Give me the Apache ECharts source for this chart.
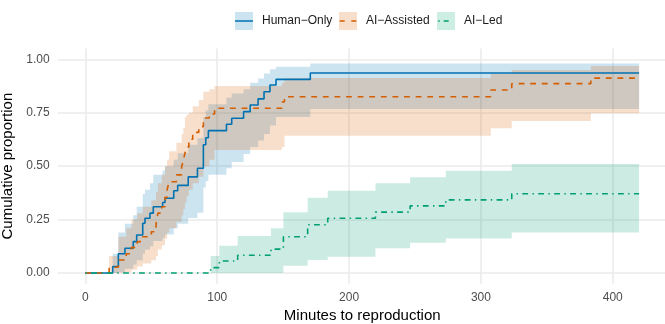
<!DOCTYPE html>
<html><head><meta charset="utf-8">
<script src="https://cdn.jsdelivr.net/npm/echarts@6/dist/echarts.min.js"></script>
<style>html,body{margin:0;padding:0;background:#fff}#c{width:665px;height:324px}</style>
</head><body><div id="c"></div>
<script>
// ---- data ----
const groups = ['Human−Only', 'AI−Assisted', 'AI−Led'];
const xTicks = [0, 100, 200, 300, 400];
const yTicks = [0, 0.25, 0.5, 0.75, 1];

const humanTime = [0, 20.7, 25, 30, 36.3, 38.9, 43.5, 45.2, 49, 51.5, 58.6, 60.4, 67, 70, 78, 85, 89.5, 91.3, 93.3, 107, 111, 120, 125, 131, 135.5, 140, 144.6, 170.6, 420];
const humanCum  = [0, 0.03, 0.09, 0.116, 0.147, 0.178, 0.233, 0.256, 0.28, 0.31, 0.33, 0.35, 0.385, 0.41, 0.45, 0.49, 0.6, 0.633, 0.666, 0.696, 0.724, 0.755, 0.786, 0.815, 0.848, 0.88, 0.906, 0.936, 0.936];
const humanLo   = [0, 0, 0.005, 0.02, 0.04, 0.06, 0.09, 0.11, 0.125, 0.15, 0.165, 0.18, 0.21, 0.23, 0.257, 0.282, 0.40, 0.43, 0.46, 0.49, 0.52, 0.557, 0.59, 0.62, 0.65, 0.69, 0.73, 0.767, 0.767];
const humanHi   = [0, 0.09, 0.19, 0.23, 0.27, 0.31, 0.37, 0.39, 0.42, 0.46, 0.48, 0.5, 0.53, 0.56, 0.6, 0.63, 0.73, 0.76, 0.79, 0.82, 0.84, 0.86, 0.89, 0.91, 0.934, 0.953, 0.965, 0.98, 0.98];

const assistTime = [0, 18, 25, 31, 35, 39.4, 43.5, 50, 53.6, 55, 58, 60.4, 62, 63.5, 69, 73, 74.3, 75.5, 76.8, 78.5, 81.4, 86, 89.5, 94, 98, 149, 151, 307.5, 323.4, 383.4, 420];
const assistCum  = [0, 0.027, 0.061, 0.09, 0.12, 0.147, 0.17, 0.193, 0.23, 0.28, 0.31, 0.354, 0.39, 0.427, 0.459, 0.497, 0.529, 0.56, 0.59, 0.626, 0.658, 0.685, 0.725, 0.744, 0.771, 0.80, 0.825, 0.856, 0.886, 0.912, 0.912];
const assistLo   = [0, 0, 0, 0.005, 0.015, 0.03, 0.045, 0.06, 0.08, 0.11, 0.13, 0.16, 0.19, 0.21, 0.24, 0.27, 0.30, 0.33, 0.36, 0.39, 0.42, 0.45, 0.50, 0.53, 0.575, 0.59, 0.642, 0.677, 0.711, 0.747, 0.747];
const assistHi   = [0, 0.08, 0.17, 0.21, 0.25, 0.28, 0.31, 0.34, 0.38, 0.42, 0.46, 0.50, 0.53, 0.57, 0.61, 0.65, 0.68, 0.73, 0.74, 0.75, 0.78, 0.81, 0.848, 0.86, 0.875, 0.89, 0.912, 0.934, 0.95, 0.969, 0.969];

const ledTime = [0, 95, 101.6, 115.5, 140.8, 150.2, 168.6, 183.8, 220, 246.3, 273.4, 323.4, 420];
const ledCum  = [0, 0.025, 0.056, 0.083, 0.112, 0.17, 0.226, 0.256, 0.285, 0.314, 0.342, 0.371, 0.371];
const ledLo   = [0, 0, 0, 0, 0, 0.034, 0.061, 0.076, 0.116, 0.142, 0.162, 0.189, 0.189];
const ledHi   = [0, 0.08, 0.128, 0.173, 0.209, 0.284, 0.352, 0.385, 0.42, 0.448, 0.479, 0.51, 0.51];

// ---- styles ----
const lineColors = ['#0072B2', '#D55E00', '#009E73'];
const keyFills = ['#cce3f0', '#f7dfcc', '#cceee3'];
const dashes = ['solid', [5.8, 5.8], [1.45, 4.35, 5.8, 4.35]];
const FONT = 'Liberation Sans, Arial, Helvetica, sans-serif';
const specks = 'M0,0h0.01v0.01h-0.01z M17.99,17.99h0.01v0.01h-0.01z ';
const keyIcons = [
  'path://' + specks + 'M0,8.2h18v1.6h-18z',
  'path://' + specks + 'M0.7,8.2h5v1.6h-5z M12.3,8.2h5v1.6h-5z',
  'path://' + specks + 'M1.2,8.2h1.5v1.6h-1.5z M6.7,8.2h5v1.6h-5z'
];
const keyLefts = [230, 334, 432];

const sets = [
  [humanTime, humanCum, humanLo, humanHi],
  [assistTime, assistCum, assistLo, assistHi],
  [ledTime, ledCum, ledLo, ledHi]
];

function stepPoints(t, v, api) {
  const pts = [];
  for (let k = 0; k < t.length; k++) {
    pts.push(api.coord([t[k], v[k]]));
    if (k < t.length - 1) pts.push(api.coord([t[k + 1], v[k]]));
  }
  return pts;
}

const series = [];
sets.forEach((s, i) => {
  const [t, c, lo, hi] = s;
  series.push({
    type: 'custom', name: 'band' + i, silent: true, clip: true, z: 1,
    data: [[t[0], lo[0]]],
    encode: { x: 0, y: 1 },
    renderItem: (params, api) => {
      const up = stepPoints(t, hi, api);
      const dn = stepPoints(t, lo, api).reverse();
      return {
        type: 'polygon',
        shape: { points: up.concat(dn) },
        style: { fill: lineColors[i], opacity: 0.2, stroke: null }
      };
    }
  });
});
sets.forEach((s, i) => {
  const [t, c] = s;
  series.push({
    type: 'line', name: groups[i], step: 'end', silent: true,
    showSymbol: false, symbol: 'none',
    lineStyle: { color: lineColors[i], width: 1.6, type: dashes[i], cap: 'butt' },
    itemStyle: { color: lineColors[i] },
    data: t.map((x, k) => [x, c[k]]), z: 3
  });
});

const legends = [];
groups.forEach((g, i) => {
  legends.push({
    data: [{ name: g, icon: 'rect', itemStyle: { color: keyFills[i], borderWidth: 0 } }],
    left: keyLefts[i], top: 7, itemWidth: 18, itemHeight: 18, selectedMode: false,
    textStyle: { fontSize: 12, color: '#1a1a1a', fontFamily: FONT, padding: [0, 0, 0, 4] }
  });
  legends.push({
    data: [{ name: g, icon: keyIcons[i], itemStyle: { color: lineColors[i], borderWidth: 0 } }],
    left: keyLefts[i], top: 7, itemWidth: 18, itemHeight: 18, selectedMode: false,
    formatter: () => '', z: 5,
    textStyle: { fontSize: 12, color: 'rgba(0,0,0,0)' }
  });
});

const chart = echarts.init(document.getElementById('c'), null, { renderer: 'canvas' });
chart.setOption({
  animation: false,
  backgroundColor: '#ffffff',
  legend: legends,
  grid: { left: 57.7, right: -1.8, top: 48.6, bottom: 40.3, containLabel: false, outerBoundsMode: 'none' },
  xAxis: {
    type: 'value', min: -21, max: 441,
    name: 'Minutes to reproduction', nameLocation: 'middle', nameGap: 21,
    nameTextStyle: { fontSize: 15, color: '#000', fontFamily: FONT },
    axisLine: { show: false },
    axisTick: { show: false, customValues: xTicks },
    axisLabel: { customValues: xTicks, fontSize: 12, color: '#4d4d4d', fontFamily: FONT, margin: 8 },
    splitLine: { show: true, lineStyle: { color: '#ebebeb', width: 1.6 } }
  },
  yAxis: {
    type: 'value', min: -0.05, max: 1.05,
    name: 'Cumulative proportion', nameLocation: 'middle', nameGap: 27,
    nameTextStyle: { fontSize: 15, color: '#000', fontFamily: FONT },
    axisLine: { show: false },
    axisTick: { show: false, customValues: yTicks },
    axisLabel: { customValues: yTicks, fontSize: 12, color: '#4d4d4d', fontFamily: FONT, margin: 8,
      formatter: v => Number(v).toFixed(2) },
    splitLine: { show: true, lineStyle: { color: '#ebebeb', width: 1.6 } }
  },
  series: series
});
</script>
</body></html>
